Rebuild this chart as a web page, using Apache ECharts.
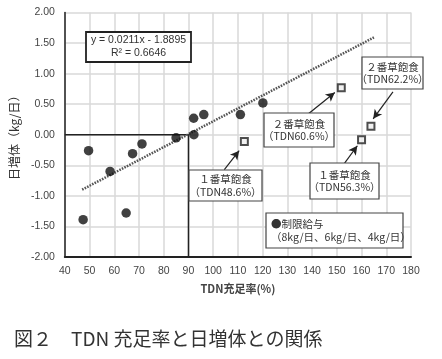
<!DOCTYPE html>
<html>
<head>
<meta charset="utf-8">
<script src="https://cdn.jsdelivr.net/npm/echarts@6/dist/echarts.min.js"></script>
<style>html,body{margin:0;padding:0;background:#fff;}#c{width:442px;height:359px;}</style>
</head>
<body>
<div id="c"></div>
<script>
// ---- data ----
const restrictedX = [49.6, 58.3, 67.4, 71.2, 85.0, 92.1, 92.2, 96.2, 111.0, 120.1, 47.4, 64.8];
const restrictedY = [-0.26, -0.60, -0.31, -0.15, -0.05, 0.27, 0.00, 0.33, 0.33, 0.52, -1.39, -1.28];
const adlibX = [112.6, 151.8, 160.0, 163.8];
const adlibY = [-0.11, 0.77, -0.08, 0.14];
const trendSlope = 0.0211;
const trendIntercept = -1.8895;
const trendXRange = [47, 165];
const refLineX = [40, 90, 90];
const refLineY = [0, 0, -2];
const xTicks = [40, 50, 60, 70, 80, 90, 100, 110, 120, 130, 140, 150, 160, 170, 180];
const yTicks = [-2.00, -1.50, -1.00, -0.50, 0.00, 0.50, 1.00, 1.50, 2.00];
const arrowFromX = [104.5, 138.4, 172.7, 152.7];
const arrowFromY = [-0.57, 0.34, 0.70, -0.49];
const arrowToX = [110.5, 149.2, 164.7, 158.3];
const arrowToY = [-0.26, 0.69, 0.26, -0.18];

const zip = (a, b) => a.map((v, i) => [v, b[i]]);
const trendData = trendXRange.map(x => [x, trendSlope * x + trendIntercept]);

const chart = echarts.init(document.getElementById('c'), null, {renderer: 'canvas'});
const tickFont = {fontFamily: 'Liberation Sans', fontSize: 10.5, color: '#444'};

function box(cx, cy, w, h, lines, opts) {
  opts = opts || {};
  const out = [{
    type: 'rect', z: 100, zlevel: 0,
    shape: {x: cx - w / 2, y: cy - h / 2, width: w, height: h},
    style: {fill: '#ffffff', stroke: opts.stroke || '#444', lineWidth: opts.lw || 1.2}
  }];
  const lh = opts.lh || 12.5;
  lines.forEach((t, i) => {
    out.push({
      type: 'text', z: 101, zlevel: 0,
      x: opts.left ? cx - w / 2 + opts.left : cx,
      y: cy + (i - (lines.length - 1) / 2) * lh,
      style: {
        text: t,
        align: opts.left ? 'left' : 'center', verticalAlign: 'middle',
        font: opts.font || '10.5px "Noto Sans CJK JP"', fill: opts.color || '#333'
      }
    });
  });
  return out;
}

chart.setOption({
  animation: false,
  backgroundColor: '#fff',
  grid: {left: 60, right: 31, top: 12.5, bottom: 102},
  title: {
    text: '図２　TDN 充足率と日増体との関係',
    left: 9, top: 324,
    textStyle: {fontFamily: 'Noto Sans CJK JP', fontSize: 19, fontWeight: 'normal', color: '#333'}
  },
  xAxis: {
    type: 'value', min: xTicks[0], max: xTicks[xTicks.length - 1], interval: 10,
    name: 'TDN充足率(%)', nameLocation: 'middle', nameGap: 26,
    nameTextStyle: {fontFamily: 'Noto Sans CJK JP', fontSize: 11, color: '#444', fontWeight: 'bold'},
    axisLine: {onZero: false, lineStyle: {color: '#222', width: 2}},
    axisTick: {show: false},
    axisLabel: Object.assign({margin: 9}, tickFont),
    splitLine: {show: true, lineStyle: {color: '#d9d9d9', width: 1.5}}
  },
  yAxis: {
    type: 'value', min: yTicks[0], max: yTicks[yTicks.length - 1], interval: 0.5,
    name: '日増体（kg/日）', nameLocation: 'middle', nameGap: 44, nameRotate: 90,
    nameTextStyle: {fontFamily: 'Noto Sans CJK JP', fontSize: 12, color: '#333'},
    axisLine: {show: true, onZero: false, lineStyle: {color: '#222', width: 1.5}},
    axisTick: {show: false},
    axisLabel: Object.assign({margin: 10, formatter: v => v.toFixed(2)}, tickFont),
    splitLine: {show: true, lineStyle: {color: '#d9d9d9', width: 1.5}}
  },
  series: [
    {
      type: 'line', data: zip(refLineX, refLineY), symbol: 'none',
      lineStyle: {color: '#222', width: 1.5}, z: 3, silent: true
    },
    {
      type: 'line', data: trendData, symbol: 'none',
      lineStyle: {color: '#555', width: 2.5, type: [1.6, 1.2]}, z: 4, silent: true
    },
    {
      type: 'scatter', data: zip(restrictedX, restrictedY), symbol: 'circle', symbolSize: 9.5,
      itemStyle: {color: '#111'}, z: 5
    },
    {
      type: 'scatter', data: zip(adlibX, adlibY), symbol: 'rect', symbolSize: 7,
      itemStyle: {color: '#eee', borderColor: '#222', borderWidth: 2}, z: 6,
      markLine: {
        silent: true, symbol: ['none', 'arrow'], symbolSize: [7, 9],
        label: {show: false},
        lineStyle: {color: '#222', width: 1.2, type: 'solid'},
        data: arrowFromX.map((x, i) => [{coord: [x, arrowFromY[i]]}, {coord: [arrowToX[i], arrowToY[i]]}])
      }
    }
  ],
  graphic: {
    elements: [].concat(
      box(138.5, 47, 105, 30, ['y = 0.0211x - 1.8895', 'R² = 0.6646'],
          {stroke: '#222', lw: 1.8, lh: 13, font: '10.5px "Liberation Sans"', color: '#333'}),
      box(225.5, 185.5, 73, 31, ['１番草飽食', '（TDN48.6%）']),
      box(299, 130, 70, 34, ['２番草飽食', '（TDN60.6%）']),
      box(392.5, 73, 61, 32, ['２番草飽食', '（TDN62.2%）']),
      box(344.5, 181, 69, 36, ['１番草飽食', '（TDN56.3%）']),
      box(334.5, 230.5, 137, 35, ['●制限給与', '（8kg/日、6kg/日、4kg/日）'], {left: 5, lh: 13.5})
    )
  }
});
</script>
</body>
</html>
